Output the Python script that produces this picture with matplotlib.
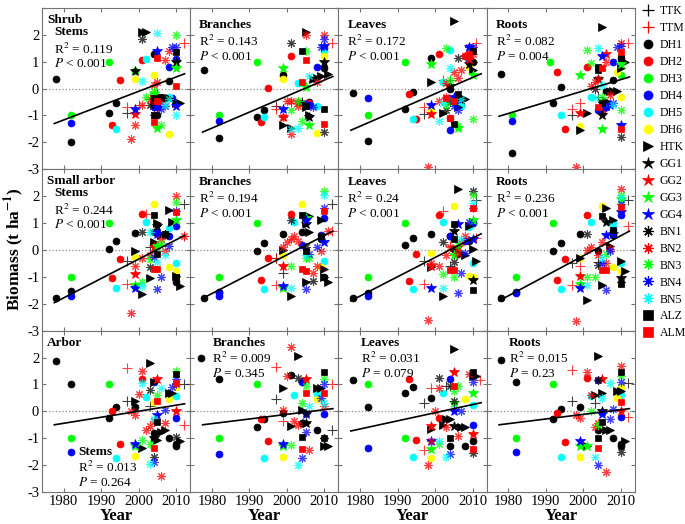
# -*- coding: utf-8 -*-
# Biomass vs year, shrub / small arbor / arbor layers, 4 organs each
import numpy as np
import matplotlib
matplotlib.use('Agg')
import matplotlib.pyplot as plt
from matplotlib.lines import Line2D

plt.rcParams['font.family'] = ['Liberation Serif', 'DejaVu Serif']
plt.rcParams['mathtext.fontset'] = 'stix'

# ---- data (year, biomass anomaly) ----
series = ['TTK', 'TTM', 'DH1', 'DH2', 'DH3', 'DH4', 'DH5', 'DH6', 'HTK',
          'GG1', 'GG2', 'GG3', 'GG4', 'BN1', 'BN2', 'BN3', 'BN4', 'BN5', 'ALZ', 'ALM']

shrub_stems = {
    'TTK': [(1997, -0.9), (2003, -0.4), (2005, -0.2)],
    'TTM': [(1997, -0.7), (2000, -0.6), (2012, 1.7)],
    'DH1': [(1978, 0.35), (1982, -2.0), (1992, -0.9), (1994, -0.55), (2004, 1.3), (2008, 0.27), (2004, -0.35), (2005, -1.0)],
    'DH2': [(1993, -1.35), (1995, 0.3), (2001, 1.05), (2005, -0.7)],
    'DH3': [(1982, -1.0), (1992, 1.0), (1999, 0.65)],
    'DH4': [(1982, -1.28), (2008, 0.8), (2010, 1.1), (2004, -0.7), (2005, -0.65), (2009, -0.35)],
    'DH5': [(1994, -1.5), (2002, 1.1), (2008, -0.3)],
    'DH6': [(1999, 0.35), (2004, 0.5), (2008, -1.7), (2010, 0.85)],
    'HTK': [(2001, 2.1), (2002, 2.1), (2004, -0.45), (2005, -0.4), (2006, -0.35), (2007, -0.4), (2008, -0.35), (2010, -0.55), (2011, -0.55)],
    'GG1': [(1999, 0.65), (2010, 1.0)],
    'GG2': [(1999, -0.95), (2004, -0.45)],
    'GG3': [(2005, -1.45), (2010, 0.75), (2004, -0.2)],
    'GG4': [(1999, -0.75), (2005, 1.4), (2010, -0.65)],
    'BN1': [(2001, 1.85), (2003, -0.6), (2004, -1.0)],
    'BN2': [(1998, -1.87), (1999, -1.37), (2001, -0.6), (2003, -0.4), (2004, 0.15), (2005, 0.25), (2006, -0.5), (2007, 1.05), (2008, 1.4)],
    'BN3': [(2002, -0.3), (2004, -0.1), (2006, -1.35), (2010, 2.0)],
    'BN4': [(2005, -0.7), (2006, -0.75), (2007, -0.65), (2009, 1.55), (2010, 1.55)],
    'BN5': [(2001, 0.28), (2005, 2.05), (2007, -0.6), (2008, -0.4), (2010, -1.0)],
    'ALZ': [(2004, -0.35), (2004, -1.0), (2006, -0.3), (2010, 1.35)],
    'ALM': [(2004, -1.25), (2005, -0.45), (2005, 1.15), (2010, 0.1)],
}
shrub_branches = {
    'TTK': [(1997, -0.65), (2004, -0.5)],
    'TTM': [(1997, -0.75), (2001, -0.55), (2012, 1.7)],
    'DH1': [(1978, 0.68), (1982, -1.84), (1992, -1.06), (1994, -0.8), (1999, 0.5), (2006, -0.5), (2010, 0.75)],
    'DH2': [(1993, -1.24), (1995, 0.02), (2001, 1.2), (2006, -0.55)],
    'DH3': [(1982, -1.0), (1992, 1.0)],
    'DH4': [(1982, -1.22), (2006, -0.6), (2008, 0.8), (2010, 1.5)],
    'DH5': [(1994, -1.06), (2003, 0.2), (2008, -0.65), (2010, 1.4)],
    'DH6': [(1999, 0.35), (2008, -1.65), (2010, 1.2)],
    'HTK': [(1999, -1.35), (2001, -1.45), (2005, 2.1), (2005, -0.7), (2006, -1.0), (2007, 0.35), (2008, 0.4), (2009, 0.45), (2011, 0.55)],
    'GG1': [(2006, -1.05), (2010, 1.0)],
    'GG2': [(1999, -1.05), (2003, -0.5)],
    'GG3': [(1999, 0.75), (2005, 0.05), (2006, -1.35)],
    'GG4': [(1999, -0.75), (2005, -0.6), (2010, 1.6)],
    'BN1': [(2001, 1.7), (2004, -0.55), (2010, -1.6)],
    'BN2': [(1999, -1.05), (2000, -0.45), (2001, -0.45), (2001, -1.7), (2003, -0.65), (2005, 2.0), (2008, 0.25), (2010, 2.0)],
    'BN3': [(2001, -0.8), (2003, -0.45), (2004, -1.2), (2005, 1.4)],
    'BN4': [(2006, -0.6), (2007, -0.7), (2009, 1.55), (2010, 1.85)],
    'BN5': [(2001, -1.5), (2003, -1.45), (2006, 0.45)],
    'ALZ': [(2004, 1.4), (2005, -0.65), (2010, -0.75)],
    'ALM': [(2004, 0.25), (2005, 1.05), (2010, -1.33)],
}
shrub_leaves = {
    'TTK': [(1997, -0.95), (2004, 0.3)],
    'TTM': [(1997, -0.7), (2002, 0.3), (2011, 1.7)],
    'DH1': [(1978, -0.17), (1982, -1.96), (1992, -0.75), (1994, -0.12), (1999, 1.15), (2004, 0.0), (2007, -0.6), (2010, 1.0)],
    'DH2': [(1993, -0.2), (1995, -1.15), (2001, 1.3), (2004, -1.1), (2008, 1.2)],
    'DH3': [(1982, -1.0), (1992, 1.0), (2002, 0.25)],
    'DH4': [(1982, -0.35), (2004, -1.55), (2006, -0.6), (2009, 1.0)],
    'DH5': [(1994, -1.15), (2002, 0.25), (2004, 1.45), (2007, -0.65)],
    'DH6': [(1999, -0.8), (2009, 0.8)],
    'HTK': [(1999, 0.25), (2002, -0.9), (2005, 2.5), (2006, -0.7), (2007, -0.35), (2008, -0.4), (2010, 1.0), (2010, 0.7)],
    'GG1': [(2004, 0.1), (2009, 0.9)],
    'GG2': [(1999, -0.95), (2009, 1.1)],
    'GG3': [(1999, 0.9), (2006, -1.45), (2010, 0.5)],
    'GG4': [(1999, -0.6), (2005, -0.3), (2009, 1.55)],
    'BN1': [(2003, -0.8), (2004, -0.5), (2006, 1.15)],
    'BN2': [(1998, -2.9), (2001, -0.45), (2003, 0.2), (2003, -0.3), (2005, 0.6), (2006, 0.4), (2007, 0.7), (2008, 1.2), (2010, 1.3)],
    'BN3': [(2003, 1.5), (2003, -0.6), (2004, 0.3), (2006, -1.4), (2010, -1.15)],
    'BN4': [(2005, -0.65), (2006, -0.8), (2009, 1.55), (2010, 1.55)],
    'BN5': [(2001, -1.2), (2002, -0.55), (2004, 0.75), (2007, -0.4)],
    'ALZ': [(2005, -1.3), (2006, -0.2), (2010, 1.4)],
    'ALM': [(2003, -0.35), (2004, -1.1), (2005, -0.45), (2009, 1.3)],
}
shrub_roots = {
    'TTK': [(1997, -1.0), (2004, -0.3)],
    'TTM': [(1997, -0.75), (1999, -0.55), (2012, 1.7)],
    'DH1': [(1978, 0.54), (1981, -2.4), (1992, -0.55), (1994, 0.05), (2006, -0.1), (2008, 0.3), (2010, 1.15)],
    'DH2': [(1993, 0.6), (1995, -1.5), (2001, 0.8), (2005, -0.85)],
    'DH3': [(1981, -1.0), (1991, 1.0), (2010, 0.52)],
    'DH4': [(1981, -1.2), (2004, -0.8), (2006, -0.7), (2008, 1.0)],
    'DH5': [(1994, -1.0), (2002, -0.3), (2006, -0.55)],
    'DH6': [(1999, -1.4), (2009, 0.6), (2010, -0.3)],
    'HTK': [(1999, -1.55), (2001, -0.9), (2005, 2.3), (2006, -0.45), (2008, -0.1), (2009, -0.1), (2010, 0.75), (2011, 1.0)],
    'GG1': [(2004, 0.35), (2005, -1.0)],
    'GG2': [(1999, -0.9), (2006, 1.3)],
    'GG3': [(1999, 0.5), (2005, -1.5), (2010, 0.9)],
    'GG4': [(2005, 1.2), (2007, -0.6), (2010, -1.35)],
    'BN1': [(2003, 0.0), (2005, -0.5), (2010, -1.8)],
    'BN2': [(1998, -2.9), (2002, 0.1), (2003, 0.25), (2004, 0.35), (2006, 1.0), (2007, -0.25), (2010, 1.7)],
    'BN3': [(2001, 1.45), (2002, 0.95), (2005, -0.3), (2010, -0.8)],
    'BN4': [(2006, -0.7), (2008, -0.55), (2009, 1.55), (2010, 1.6)],
    'BN5': [(2003, -0.35), (2004, 1.5), (2005, 0.15), (2008, -0.6)],
    'ALZ': [(2004, 0.8), (2004, 0.7), (2005, -0.55), (2010, 1.15)],
    'ALM': [(2004, -0.7), (2005, 0.75), (2010, 1.35), (2010, -1.5)],
}
small_stems = {
    'TTK': [(1997, -0.4), (2003, 0.1), (2012, 1.7)],
    'TTM': [(1997, -1.28), (2002, 1.35), (2012, 0.5)],
    'DH1': [(1978, -1.8), (1982, -1.54), (1992, 0.05), (1994, 0.35), (1999, 0.62), (2004, 0.65), (2010, -0.95), (2010, -1.2)],
    'DH2': [(1993, -1.05), (1995, -0.32), (2001, 1.35)],
    'DH3': [(1982, -1.0), (1992, 1.0)],
    'DH4': [(1982, -1.7), (2005, 0.65), (2008, 0.5), (2010, 0.9)],
    'DH5': [(1994, -1.43), (2002, 1.05), (2008, 0.8), (2010, -0.5)],
    'DH6': [(1999, -0.27), (2004, 1.7), (2008, -0.65), (2010, -0.8)],
    'HTK': [(1999, -0.03), (2001, -1.62), (2003, -1.05), (2004, 0.3), (2005, 1.0), (2006, 0.55), (2008, 1.5), (2009, 1.05), (2010, -0.95), (2011, -1.35)],
    'GG1': [(2005, 0.9), (2007, 0.55)],
    'GG2': [(1999, -0.9), (2004, 0.1)],
    'GG3': [(1999, -1.3), (2005, 0.15), (2010, 1.1)],
    'GG4': [(1999, -1.4), (2005, 0.6)],
    'BN1': [(2001, 0.65), (2003, -0.65), (2007, 0.6)],
    'BN2': [(1998, -2.35), (1999, -0.6), (2001, -0.3), (2003, -0.2), (2006, 0.4), (2007, -0.05), (2010, 2.0), (2012, 0.5)],
    'BN3': [(2001, -1.2), (2003, -0.35), (2006, 0.25), (2010, 1.8)],
    'BN4': [(2004, -0.25), (2005, -1.45), (2006, -1.0), (2008, 0.15), (2010, 1.45)],
    'BN5': [(2001, -1.35), (2003, 0.65), (2005, -0.45), (2007, -0.2)],
    'ALZ': [(2004, 1.3), (2005, -0.15), (2007, 0.6), (2010, -1.0)],
    'ALM': [(2004, -0.7), (2005, -0.7), (2010, 1.4)],
}
small_branches = {
    'TTK': [(1997, -0.3), (1999, -0.85), (2012, 1.7)],
    'TTM': [(1997, -1.3), (1997, -0.3), (2012, 0.7)],
    'DH1': [(1978, -1.8), (1982, -1.55), (1992, -0.05), (1994, 0.25), (1999, 0.6), (2004, 0.65), (2009, 0.4), (2010, -1.0)],
    'DH2': [(1993, -1.1), (1995, -0.3), (2001, 1.35)],
    'DH3': [(1982, -1.0), (1992, 1.0)],
    'DH4': [(1982, -1.6), (1982, -1.7), (2004, 0.2), (2009, 0.55), (2010, 1.2)],
    'DH5': [(1994, -1.45), (2002, 1.05), (2010, -0.4)],
    'DH6': [(1999, -0.2), (2004, 1.7), (2009, -0.65)],
    'HTK': [(1999, 0.0), (2001, -1.7), (2005, -1.2), (2005, 1.0), (2006, 0.65), (2006, 1.25), (2009, 1.1), (2010, -0.7), (2010, -1.0), (2011, -1.2)],
    'GG1': [(2005, 0.95)],
    'GG2': [(1999, -0.6)],
    'GG3': [(1999, -1.4), (2005, 1.2)],
    'GG4': [(1999, -1.35), (2005, 1.1), (2010, 0.3)],
    'BN1': [(2001, 1.1), (2005, 0.1), (2007, -1.15)],
    'BN2': [(1999, 0.1), (2000, 0.3), (2001, 0.4), (2002, 0.5), (2003, 0.35), (2007, -0.85), (2008, -0.6), (2009, -0.05), (2011, 0.7)],
    'BN3': [(2001, -0.6), (2005, -0.3), (2006, -0.3), (2010, 2.2)],
    'BN4': [(2005, -1.45), (2006, -0.15), (2008, 0.1), (2010, 1.55)],
    'BN5': [(2001, -1.4), (2005, -0.2), (2010, 2.05)],
    'ALZ': [(2004, 1.3), (2005, -0.05), (2009, 0.5)],
    'ALM': [(2004, -0.7), (2005, -0.8), (2010, 1.45)],
}
small_leaves = {
    'TTK': [(1997, -0.4), (2004, -0.6), (2011, 1.85)],
    'TTM': [(1997, -1.25), (2002, 1.45), (2004, 0.15), (2011, 0.45)],
    'DH1': [(1978, -1.8), (1982, -1.6), (1992, 0.2), (1994, 0.45), (1999, 0.6), (2004, 0.5), (2005, 0.05), (2009, 0.35)],
    'DH2': [(1993, -1.15), (1995, -0.15), (2001, 1.3)],
    'DH3': [(1982, -1.0), (1992, 1.0), (2010, 1.0)],
    'DH4': [(1982, -1.7), (2004, 0.5), (2008, 0.35), (2010, 1.0)],
    'DH5': [(1994, -1.45), (2002, 1.05), (2009, 0.85), (2010, -0.5)],
    'DH6': [(1999, -0.1), (2005, 1.65), (2009, -0.95), (2010, -1.0)],
    'HTK': [(1999, -0.65), (2002, -1.7), (2006, 2.25), (2007, -0.15), (2008, -0.2), (2009, 0.9), (2010, 0.05), (2011, -0.4)],
    'GG1': [(2005, 0.7), (2010, -1.1)],
    'GG2': [(1999, -0.6), (2006, 0.1)],
    'GG3': [(2005, -0.2), (2010, 1.1)],
    'GG4': [(1999, -1.4), (2006, 0.95), (2010, 0.4)],
    'BN1': [(2002, 0.3), (2005, -0.45), (2010, 2.2)],
    'BN2': [(1998, -2.6), (1999, -0.5), (2001, -0.6), (2003, -0.2), (2004, 0.1), (2006, -0.1), (2007, 0.3), (2008, 0.5), (2010, 1.55)],
    'BN3': [(2002, -0.9), (2005, -1.0), (2006, 0.2), (2010, 2.05)],
    'BN4': [(2006, -1.6), (2007, -0.85), (2008, -0.1), (2009, 1.05)],
    'BN5': [(2002, -1.4), (2007, 0.4), (2010, 1.75)],
    'ALZ': [(2005, 0.95), (2005, 0.4), (2010, -1.5)],
    'ALM': [(2004, -0.75), (2005, -0.75), (2010, 1.55)],
}
small_roots = {
    'TTK': [(1997, -0.5), (2004, -0.45), (2012, 1.85)],
    'TTM': [(1997, -1.3), (1999, -0.6), (2012, 0.9)],
    'DH1': [(1978, -1.78), (1982, -1.55), (1992, -0.05), (1994, 0.25), (1999, 0.6), (2004, -0.05), (2008, 0.55)],
    'DH2': [(1993, -1.1), (1995, -0.35), (2001, 1.3)],
    'DH3': [(1982, -1.0), (1992, 1.0)],
    'DH4': [(1982, -1.6), (2008, 0.75), (2010, 1.3)],
    'DH5': [(1994, -1.45), (2002, 1.05), (2008, 1.0), (2010, -0.5)],
    'DH6': [(1999, -0.3), (2005, 1.65), (2008, -0.65), (2010, -0.8)],
    'HTK': [(1999, -0.3), (2001, -1.85), (2005, -1.3), (2006, 1.55), (2007, 0.15), (2008, 1.1), (2010, -0.4), (2011, -0.8)],
    'GG1': [(2006, 1.05), (2010, -1.05)],
    'GG2': [(1999, -0.95)],
    'GG3': [(1999, -1.25), (2010, 1.9)],
    'GG4': [(1999, -1.4), (2006, 0.55), (2008, 0.6), (2010, 1.4)],
    'BN1': [(2001, 0.6), (2004, -0.55), (2010, -1.2)],
    'BN2': [(1998, -2.65), (2001, 0.0), (2002, 0.1), (2004, -0.2), (2005, 0.3), (2006, -0.5), (2007, 0.05), (2010, 2.25)],
    'BN3': [(2001, -1.0), (2003, -1.0), (2006, -0.15), (2010, 2.05)],
    'BN4': [(2005, -0.5), (2006, -1.5), (2007, -0.05), (2010, 1.7)],
    'BN5': [(2001, -1.3), (2005, -0.3), (2008, 0.9), (2010, 1.95)],
    'ALZ': [(2005, 1.25), (2008, 0.75), (2010, -1.25)],
    'ALM': [(2005, -0.75), (2006, -0.75), (2010, 1.6)],
}
arbor_stems = {
    'TTK': [(1997, 0.4), (2003, 0.2), (2012, 1.0)],
    'TTM': [(1997, 1.6), (2012, -0.5)],
    'DH1': [(1978, 1.88), (1982, 1.03), (1992, -0.23), (1994, 0.15), (1999, 0.15), (2004, -0.8), (2004, -1.0), (2008, -1.0), (2010, -1.2), (2010, -1.3)],
    'DH2': [(1993, 0.0), (1995, -1.2), (2001, 1.2)],
    'DH3': [(1982, -1.0), (1992, 1.0), (2008, 0.65)],
    'DH4': [(1982, -1.52), (2004, 1.1), (2010, -0.25)],
    'DH5': [(1994, -1.72), (2002, 0.55), (2010, 0.57)],
    'DH6': [(1999, -1.65), (2004, 0.33), (2008, 0.45), (2010, 0.9)],
    'HTK': [(1999, 0.4), (2001, -1.35), (2003, 1.8), (2004, 1.1), (2005, -1.05), (2006, -0.75), (2007, -0.7), (2008, 0.7), (2009, 0.7), (2011, -1.1)],
    'GG1': [(2004, -1.0)],
    'GG2': [(2005, 1.2), (2010, 0.0)],
    'GG3': [(1999, -1.3)],
    'GG4': [(1999, -1.2), (2005, -0.15)],
    'BN1': [(2003, 0.8), (2004, -1.7), (2010, -0.95)],
    'BN2': [(1998, 0.0), (1999, -0.12), (2000, 0.65), (2001, 1.5), (2002, -0.7), (2003, -0.55), (2004, -0.35), (2006, -2.4), (2007, -0.45), (2010, 1.0)],
    'BN3': [(2001, -1.05), (2003, -1.2), (2005, 0.6), (2010, 1.5)],
    'BN4': [(2004, -1.9), (2007, 0.05), (2009, 0.9), (2010, 1.2)],
    'BN5': [(2001, 1.05), (2003, -1.95), (2004, -0.3), (2006, 0.85)],
    'ALZ': [(2005, -0.4), (2010, 1.4)],
    'ALM': [(2004, -1.35), (2005, 0.4), (2010, 1.05)],
}
arbor_branches = {
    'TTK': [(1997, 0.45), (2012, -0.7)],
    'TTM': [(1997, 1.65), (1999, -0.35), (2012, 1.0)],
    'DH1': [(1977, 2.0), (1982, 1.2), (1992, -0.6), (1994, -0.3), (1999, -0.05), (2001, 1.35), (2004, -0.45), (2008, -0.7), (2010, -1.0)],
    'DH2': [(1993, -0.3), (1995, -1.1)],
    'DH3': [(1982, -1.0), (1992, 1.0)],
    'DH4': [(1982, -1.6), (2004, 1.1), (2010, -0.1)],
    'DH5': [(1994, -1.75), (2002, 0.6), (2008, 0.65)],
    'DH6': [(1999, -1.7), (2008, 0.45)],
    'HTK': [(1999, 0.85), (2001, -0.55), (2003, 2.05), (2004, 0.05), (2005, -0.45), (2008, 0.85), (2009, 0.85), (2010, -1.3), (2011, -1.3)],
    'GG1': [(2005, -0.45)],
    'GG2': [(2005, 1.2)],
    'GG3': [(1999, -1.3)],
    'GG4': [(1999, -1.2), (2005, -0.1)],
    'BN1': [(2003, 1.25), (2005, -0.05), (2010, -1.0)],
    'BN2': [(1999, 0.05), (2000, 1.3), (2001, 2.4), (2002, -0.35), (2003, -0.5), (2006, -1.45), (2010, 0.2)],
    'BN3': [(2001, -1.25), (2004, 0.3), (2005, 0.95), (2010, 1.2)],
    'BN4': [(2004, -1.75), (2005, -0.75), (2009, 0.5), (2010, 1.0)],
    'BN5': [(2003, -2.0), (2006, 0.2), (2010, 0.3)],
    'ALZ': [(2004, -0.95), (2010, 1.45)],
    'ALM': [(2004, -1.4), (2005, 0.7), (2010, 0.7)],
}
arbor_leaves = {
    'TTK': [(1997, 0.3), (2003, 0.95)],
    'TTM': [(1997, -1.45), (1999, 0.85), (2012, 1.15)],
    'DH1': [(1978, 1.15), (1982, 0.17), (1992, 0.7), (1994, 0.9), (1999, 0.5), (2004, -1.3), (2008, -1.3), (2010, -1.1)],
    'DH2': [(1993, 1.2), (1995, -1.05), (2001, -0.25)],
    'DH3': [(1982, 1.0), (1992, -1.0)],
    'DH4': [(1982, -1.38), (2004, 1.2), (2010, -0.5)],
    'DH5': [(1994, -1.7), (2002, 0.7), (2010, 0.25)],
    'DH6': [(1999, -1.72), (2008, 0.45)],
    'HTK': [(1999, -0.65), (2002, -0.5), (2003, -0.3), (2004, -0.3), (2005, 2.3), (2007, -0.6), (2008, -0.6), (2010, 1.3), (2011, 1.3)],
    'GG1': [(2005, -0.55)],
    'GG2': [(1999, -0.55), (2005, 1.45), (2010, -0.85)],
    'GG3': [(1999, -1.4), (2005, 0.3), (2010, 0.7)],
    'GG4': [(1999, -1.1), (2005, 0.0)],
    'BN1': [(2001, 1.25), (2004, 0.95), (2005, 0.4), (2010, -1.55)],
    'BN2': [(1998, -2.0), (1999, -1.1), (2000, 0.0), (2001, 0.85), (2003, -0.6), (2006, -0.9), (2009, 1.4)],
    'BN3': [(2001, -1.2), (2005, 0.75), (2006, 0.95)],
    'BN4': [(2004, -1.6), (2007, 0.0), (2010, 1.1)],
    'BN5': [(2001, -1.1), (2003, -1.7)],
    'ALZ': [(2004, -1.0), (2010, 1.45)],
    'ALM': [(2005, 0.95), (2010, -1.4)],
}
arbor_roots = {
    'TTK': [(1997, 0.4), (2003, 0.3), (2012, 1.05)],
    'TTM': [(1997, 1.55), (2012, -0.2)],
    'DH1': [(1978, 1.9), (1982, 1.08), (1992, -0.28), (1994, 0.1), (1999, 0.15), (2004, -0.7), (2008, -1.0), (2010, -1.2), (2010, -1.3)],
    'DH2': [(1993, -0.08), (1995, -1.15), (2001, 1.25)],
    'DH3': [(1982, -1.0), (1992, 1.0)],
    'DH4': [(1982, -1.52), (2004, 1.15), (2010, -0.2)],
    'DH5': [(1994, -1.7), (2002, 0.57), (2010, 0.6)],
    'DH6': [(1999, -1.7), (2009, 0.5), (2010, 0.9)],
    'HTK': [(2001, -1.3), (2003, 0.6), (2004, 2.05), (2005, 0.7), (2006, -0.7), (2007, -0.7), (2009, 0.75), (2010, 0.75), (2011, -1.1)],
    'GG1': [(2005, 0.0)],
    'GG2': [(2005, 1.2), (2010, 0.0)],
    'GG3': [(1999, -1.3), (2001, -1.3)],
    'GG4': [(1999, -1.1), (2005, -0.1)],
    'BN1': [(2004, 1.15), (2010, -1.5)],
    'BN2': [(1998, -0.15), (1999, -0.25), (2001, 1.45), (2002, 0.6), (2003, -0.6), (2004, -0.45), (2006, -2.25), (2010, 1.7)],
    'BN3': [(2002, 0.0), (2004, -0.5), (2010, 1.3)],
    'BN4': [(2004, -2.0), (2007, -0.3), (2008, 0.1), (2010, 1.1)],
    'BN5': [(2003, -1.7), (2005, 0.5), (2007, 1.05)],
    'ALZ': [(2004, -1.0), (2005, -0.4), (2010, 1.45)],
    'ALM': [(2004, -1.35), (2010, 0.35)],
}

panels = [[shrub_stems, shrub_branches, shrub_leaves, shrub_roots],
          [small_stems, small_branches, small_leaves, small_roots],
          [arbor_stems, arbor_branches, arbor_leaves, arbor_roots]]

# fitted regression line values at the first and last year
fit_years = [1977.5, 2012.3]
fit_values = [[(-1.3, 0.55), (-1.62, 0.45), (-1.55, 0.55), (-1.03, 0.43)],
              [(-1.96, 0.54), (-1.8, 0.7), (-1.89, 0.6), (-1.89, 0.7)],
              [(-0.5, 0.28), (-0.5, 0.1), (-0.73, 0.32), (-0.5, 0.1)]]

layers = ['Shrub', 'Small arbor', 'Arbor']
organs = ['Stems', 'Branches', 'Leaves', 'Roots']
r2 = [['0.119', '0.143', '0.172', '0.082'],
      ['0.244', '0.194', '0.24', '0.236'],
      ['0.013', '0.009', '0.031', '0.015']]
pv = [['< 0.001', '< 0.001', '< 0.001', '= 0.004'],
      ['< 0.001', '< 0.001', '< 0.001', '< 0.001'],
      ['= 0.264', '= 0.345', '= 0.079', '= 0.23']]

# marker styles
ast = (8, 2, 0)
style = {
    'TTK': ('+', 'k'), 'TTM': ('+', 'red'),
    'DH1': ('o', 'k'), 'DH2': ('o', 'red'), 'DH3': ('o', '#00ff00'),
    'DH4': ('o', 'blue'), 'DH5': ('o', 'cyan'), 'DH6': ('o', 'yellow'),
    'HTK': ('>', 'k'),
    'GG1': ('*', 'k'), 'GG2': ('*', 'red'), 'GG3': ('*', '#00ff00'), 'GG4': ('*', 'blue'),
    'BN1': (ast, 'k'), 'BN2': (ast, 'red'), 'BN3': (ast, '#00ff00'), 'BN4': (ast, 'blue'), 'BN5': (ast, 'cyan'),
    'ALZ': ('s', 'k'), 'ALM': ('s', 'red'),
}
msize = {'+': 6.5, 'o': 5, '>': 6, '*': 7.5, 's': 5, ast: 6}

fig, axes = plt.subplots(3, 4, figsize=(6.85, 5.24), dpi=100, sharex=True, sharey=True)
plt.subplots_adjust(left=0.0613, right=0.927, top=0.985, bottom=0.061, wspace=0, hspace=0)

for r in range(3):
    for c in range(4):
        ax = axes[r, c]
        ax.axhline(0, color='0.55', linestyle=':', linewidth=0.9, zorder=1)
        data = panels[r][c]
        for name in series:
            pts = np.array(data[name])
            mk, col = style[name]
            thin = mk in ('+', ast)
            ax.plot(pts[:, 0], pts[:, 1], linestyle='none', marker=mk,
                    markersize=msize[mk], color=col, alpha=0.75 if thin else 1,
                    markeredgewidth=0.8 if thin else 0.5, zorder=2)
        ax.plot(fit_years, fit_values[r][c], color='k', linewidth=1.2, zorder=3)

        ax.set_xlim(1974.2, 2013.8)
        ax.set_ylim(-3, 3)
        ax.set_xticks([1980, 1990, 2000, 2010])
        ax.set_yticks([-3, -2, -1, 0, 1, 2, 3])
        ax.tick_params(direction='in', top=True, right=True, length=3,
                       color='0.45', labelsize=10.5, pad=2)
        for s in ax.spines.values():
            s.set_color('0.45')

        bold = dict(fontsize=9.5, fontweight='bold', transform=ax.transAxes, va='center')
        reg = dict(fontsize=9.5, transform=ax.transAxes, va='center')
        stats = ['R$^2$ = ' + r2[r][c], '$P$ ' + pv[r][c]]
        if c == 0:
            ax.text(0.035, 0.925, layers[r], **bold)
            if r < 2:
                ax.text(0.08, 0.85, organs[c], **bold)
                ax.text(0.08, 0.745, stats[0], **reg)
                ax.text(0.08, 0.655, stats[1], **reg)
            else:
                ax.text(0.245, 0.25, organs[c], **bold)
                ax.text(0.245, 0.15, stats[0], **reg)
                ax.text(0.245, 0.057, stats[1], **reg)
        else:
            if r == 0:
                x0, ys = 0.06, (0.895, 0.79, 0.70)
            elif r == 1:
                x0, ys = 0.06, (0.92, 0.82, 0.727)
            else:
                x0, ys = 0.15, (0.925, 0.83, 0.737)
            ax.text(x0, ys[0], organs[c], **bold)
            ax.text(x0, ys[1], stats[0], **reg)
            ax.text(x0, ys[2], stats[1], **reg)

# top label "3" only in the first row (others would overlap the "-3" above)
for r in range(3):
    for c in range(4):
        axes[r, c].yaxis.set_major_formatter(
            plt.FuncFormatter(lambda v, p, r=r: '' if (r > 0 and v == 3) else '%d' % v))

for c in range(4):
    axes[2, c].set_xlabel('Year', fontsize=12, fontweight='bold', labelpad=0)
fig.text(0.02, 0.525, 'Biomass (t ha$^{\\mathbf{-1}}$)', rotation=90, fontsize=12.5,
         fontweight='bold', va='center', ha='center')

handles = []
for name in series:
    mk, col = style[name]
    handles.append(Line2D([], [], linestyle='none', marker=mk, color=col,
                          markersize=msize[mk] + 1.5,
                          markeredgewidth=0.9 if mk in ('+', ast) else 0.5))
fig.legend(handles, series, loc='upper left', bbox_to_anchor=(0.937, 0.99),
           frameon=False, fontsize=8.5, handlelength=1.0, handletextpad=0.5,
           labelspacing=0.42, borderaxespad=0, borderpad=0)

plt.savefig('out.png', dpi=100)
